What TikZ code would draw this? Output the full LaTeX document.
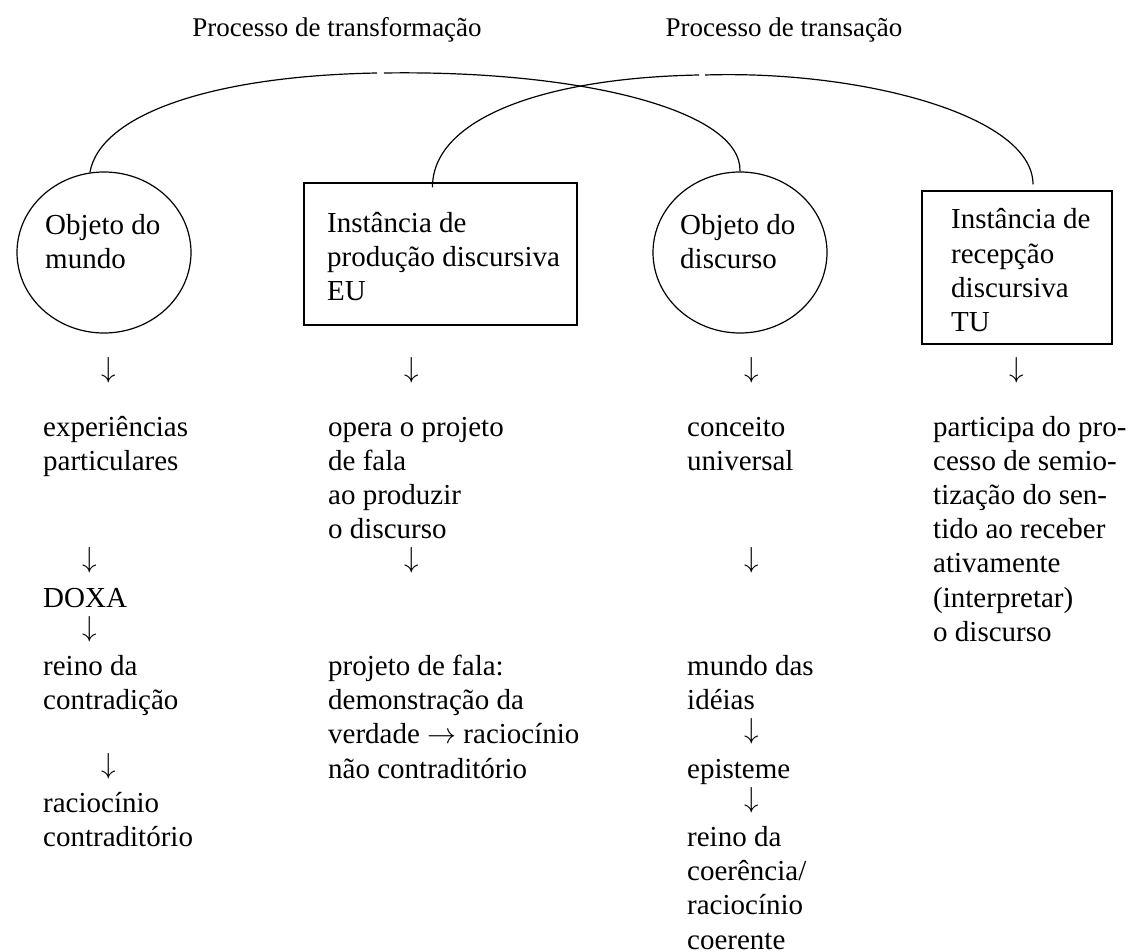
\documentclass[tikz,border=0pt]{standalone}
\usepackage{fontspec}
\usepackage{graphicx}
\setmainfont{Liberation Serif}
\usetikzlibrary{shapes.geometric}
\newcommand\rarrow{\scalebox{2.9}{\fontsize{10}{12}\selectfont$\rightarrow$}}
\begin{document}
\begin{tikzpicture}[x=1pt,y=-1pt,
  shapeline/.style={draw=black,line width=1.2pt},
  ring/.style={shapeline,ellipse,minimum width=174pt,minimum height=161pt,inner sep=0pt},
  panel/.style={shapeline,rectangle,inner sep=0pt},
  link/.style={black,line width=1.2pt},
  txt/.style={anchor=base west,inner sep=0pt,font=\fontsize{29}{34}\selectfont},
  dn/.style={anchor=base,inner sep=0pt,scale=2.9,font=\fontsize{10}{12}\selectfont},
  ttl/.style={anchor=base,inner sep=0pt,font=\fontsize{27}{32}\selectfont}]
\useasboundingbox (0,0) rectangle (1129,952);

% titles
\node[ttl] (title1) at (337,37) {Processo de transformação};
\node[ttl] (title2) at (784,37) {Processo de transação};

% shapes
\node[ring] (c1) at (104,252.5) {};
\node[panel,minimum width=273pt,minimum height=142pt] (b1) at (440.5,254) {};
\node[ring] (c2) at (740,252.5) {};
\node[panel,minimum width=190pt,minimum height=153pt] (b2) at (1017,267.5) {};

% shape texts
\node[txt] (c1a) at (45,234) {Objeto do};
\node[txt] (c1b) at (45,268) {mundo};
\node[txt] (b1a) at (327,232) {Instância de};
\node[txt] (b1b) at (327,266) {produção discursiva};
\node[txt] (b1c) at (327,300) {EU};
\node[txt] (c2a) at (680,234) {Objeto do};
\node[txt] (c2b) at (680,268) {discurso};
\node[txt] (b2a) at (951,229) {Instância de};
\node[txt] (b2b) at (951,263) {recepção};
\node[txt] (b2c) at (951,297) {discursiva};
\node[txt] (b2d) at (951,331) {TU};

% arcs (with the small breaks near their tops)
\coordinate (g1a) at (377,73);
\coordinate (g1b) at (384,73);
\coordinate (g2a) at (699,75);
\coordinate (g2b) at (705,75);
\draw[link] (c1.100) .. controls (100,115) and (210,76) .. (g1a);
\draw[link] (g1b) .. controls (580,70) and (742,110) .. (c2.north);
\draw[link] ([xshift=-8pt,yshift=-5pt]b1.north) .. controls (432,120) and (540,78) .. (g2a);
\draw[link] (g2b) .. controls (860,70) and (1033,115) .. ([xshift=16pt,yshift=6pt]b2.north);

% column 1
\foreach \k/\t [count=\i] in {0/experiências,1/particulares,5/DOXA,7/reino da,8/contradição,11/raciocínio,12/contraditório}
  \node[txt] (p\i) at (43,{436+34.2*\k}) {\t};
\node[dn] (pa1) at (109,377) {$\downarrow$};
\node[dn] (pa2) at (90,{436+34.2*4-5}) {$\downarrow$};
\node[dn] (pa3) at (90,{436+34.2*6-5}) {$\downarrow$};
\node[dn] (pa4) at (109,{436+34.2*10-5}) {$\downarrow$};

% column 2
\foreach \k/\t [count=\i] in {0/opera o projeto,1/de fala,2/ao produzir,3/o discurso,7/projeto de fala:,8/demonstração da,9/{verdade \rarrow{} raciocínio},10/não contraditório}
  \node[txt] (q\i) at (328,{436+34.2*\k}) {\t};
\node[dn] (qa1) at (412,377) {$\downarrow$};
\node[dn] (qa2) at (412,{436+34.2*4-5}) {$\downarrow$};

% column 3
\foreach \k/\t [count=\i] in {0/conceito,1/universal,7/mundo das,8/idéias,10/episteme,12/reino da,13/{coerência/},14/raciocínio,15/coerente}
  \node[txt] (r\i) at (687,{436+34.2*\k}) {\t};
\node[dn] (ra1) at (752,377) {$\downarrow$};
\node[dn] (ra2) at (752,{436+34.2*4-5}) {$\downarrow$};
\node[dn] (ra3) at (752,{436+34.2*9-5}) {$\downarrow$};
\node[dn] (ra4) at (752,{436+34.2*11-5}) {$\downarrow$};

% column 4
\foreach \k/\t [count=\i] in {0/participa do pro-,1/cesso de semio-,2/tização do sen-,3/tido ao receber,4/ativamente,5/{(interpretar)},6/o discurso}
  \node[txt] (s\i) at (933,{436+34.2*\k}) {\t};
\node[dn] (sa1) at (1017,377) {$\downarrow$};
\end{tikzpicture}
\end{document}
